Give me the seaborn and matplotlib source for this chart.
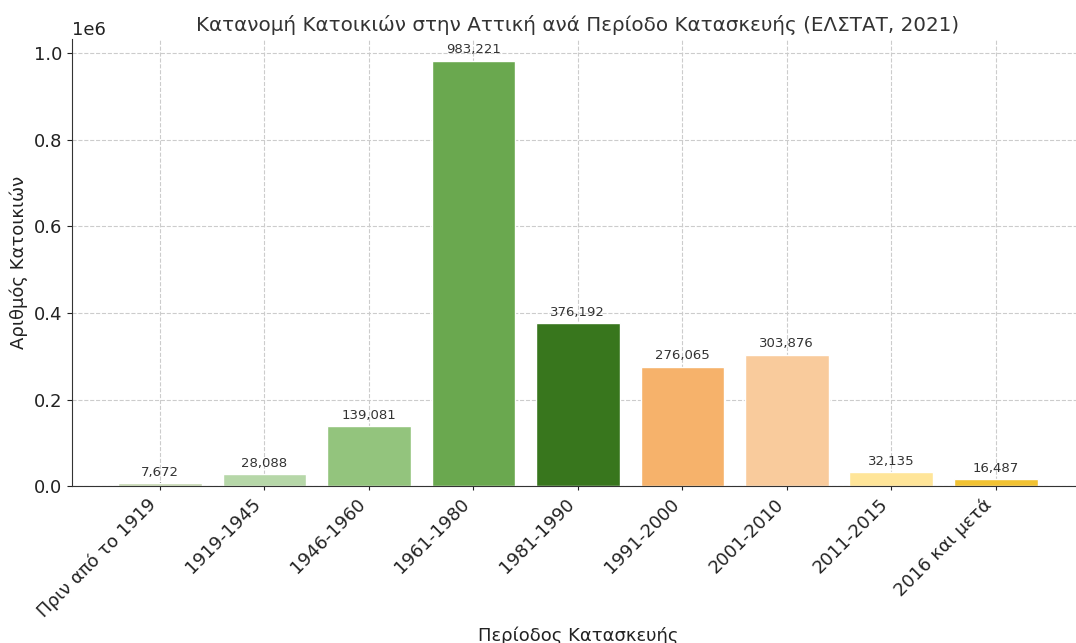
import matplotlib
matplotlib.use("Agg")
import matplotlib.pyplot as plt
import seaborn as sns
import pandas as pd

periods = ["Πριν από το 1919", "1919-1945", "1946-1960", "1961-1980", "1981-1990",
           "1991-2000", "2001-2010", "2011-2015", "2016 και μετά"]
dwellings = [7672, 28088, 139081, 983221, 376192, 276065, 303876, 32135, 16487]
colors = ["#c5d6b0", "#b6d7a8", "#93c47d", "#6aa84f", "#38761d",
          "#f6b26b", "#f9cb9c", "#ffe599", "#f1c232"]

sns.set_style("ticks")
plt.rcParams['font.family'] = ['DejaVu Sans']

df = pd.DataFrame({"period": periods, "count": dwellings})

fig = plt.figure(figsize=(10.76, 6.43), dpi=100)
ax = fig.add_axes([0.067, 0.244, 0.94, 0.695])
ax.set_axisbelow(True)

sns.barplot(data=df, x="period", y="count", hue="period", palette=colors,
            legend=False, width=0.8, edgecolor="white", linewidth=1, ax=ax,
            saturation=1)

ax.grid(True, axis="both", linestyle="--", color="#cccccc", linewidth=0.8)
ax.xaxis.grid(True, linestyle="--", color="#cccccc", linewidth=0.8)

for c in ax.containers:
    ax.bar_label(c, labels=[f"{v:,.0f}" for v in c.datavalues], padding=3,
                 fontsize=9.5, color="#333333")

ax.set_xlim(-0.84, 8.84)
ax.set_ylim(0, 983221 * 1.05)
ax.set_title("Κατανομή Κατοικιών στην Αττική ανά Περίοδο Κατασκευής (ΕΛΣΤΑΤ, 2021)",
             fontsize=14.3, color="#333333")
ax.set_xlabel("Περίοδος Κατασκευής", fontsize=13, color="#222222")
ax.set_ylabel("Αριθμός Κατοικιών", fontsize=13, color="#222222")
plt.setp(ax.get_xticklabels(), rotation=45, ha="right", rotation_mode="default")
ax.tick_params(axis="both", labelsize=13, colors="#222222")
ax.tick_params(axis="x", direction="inout", length=6)
ax.ticklabel_format(axis="y", style="sci", scilimits=(0, 0))
ax.yaxis.get_offset_text().set_fontsize(13)
sns.despine(ax=ax, top=True, right=True)
for s in ["left", "bottom"]:
    ax.spines[s].set_color("#333333")

fig.savefig("out.png", dpi=100)
